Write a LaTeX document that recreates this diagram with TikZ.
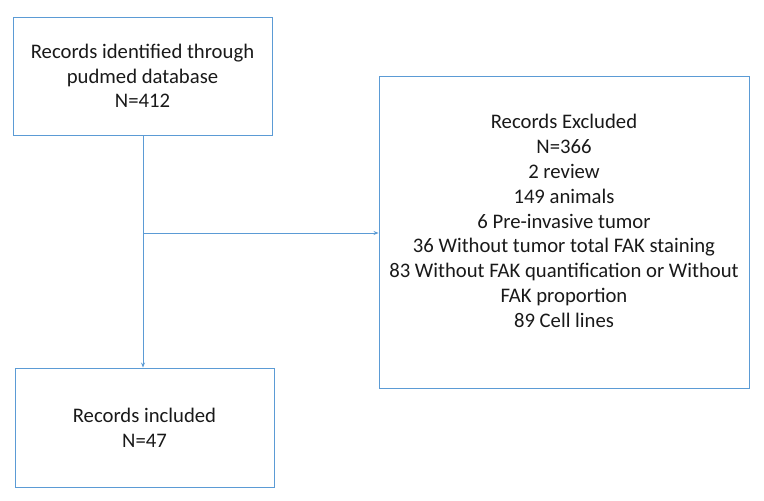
\documentclass[tikz,border=0pt]{standalone}
\usepackage{fontspec}
\setmainfont{Carlito}
\usetikzlibrary{arrows.meta}
\definecolor{boxblue}{RGB}{91,155,213}
\definecolor{txt}{RGB}{25,25,25}
\tikzset{
	box/.style={draw=boxblue, line width=0.9pt, align=center, text=txt, font=\fontsize{20.7}{24.8}\selectfont},
	flow/.style={draw=boxblue, line width=0.9pt, -{Stealth[length=5pt,width=4pt]}}
}
\begin{document}
\begin{tikzpicture}[x=1pt,y=-1pt]
				\useasboundingbox (0,0) rectangle (764,501);
				% Boxes
				\node[box, minimum width=259pt, minimum height=118pt] (ident) at (142.5,76) {Records identified through\\pudmed database\\N=412};
				\node[box, minimum width=370pt, minimum height=312pt] (excl) at (564,232) {};
				\node[box, draw=none] (excltxt) at (564,221) {Records Excluded\\N=366\\2 review\\149 animals\\6 Pre-invasive tumor\\36 Without tumor total FAK staining\\83 Without FAK quantification or Without\\FAK proportion\\89 Cell lines};
				\node[box, minimum width=259pt, minimum height=119pt] (incl) at (144.5,427.5) {Records included\\N=47};
				
				% Arrows
				\coordinate (split) at (143,233);
				\draw[flow] (ident.south -| split) -- (incl.north -| split);
				\draw[flow] (split) -- (excl.west |- split);
			\end{tikzpicture}
\end{document}
